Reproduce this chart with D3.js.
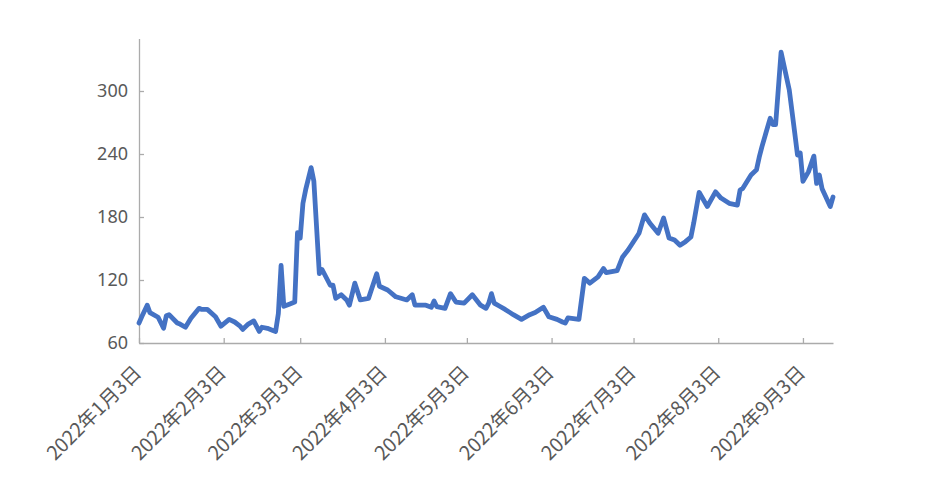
<!DOCTYPE html>
<html><head><meta charset="utf-8">
<script src="https://cdn.jsdelivr.net/npm/d3@7"></script>
<style>html,body{margin:0;padding:0;background:#fff;}svg{display:block;}</style>
</head><body>
<svg id="chart" width="931" height="489"></svg>
<script>
const dates = ["2022-01-03","2022-01-04","2022-01-06","2022-01-07","2022-01-10","2022-01-12","2022-01-13","2022-01-14","2022-01-17","2022-01-18","2022-01-20","2022-01-22","2022-01-25","2022-01-26","2022-01-28","2022-01-31",
"2022-02-02","2022-02-05","2022-02-07","2022-02-09","2022-02-10","2022-02-12","2022-02-14","2022-02-16","2022-02-17","2022-02-19","2022-02-21","2022-02-22","2022-02-23","2022-02-24","2022-02-25","2022-02-27",
"2022-03-01","2022-03-02","2022-03-03","2022-03-04","2022-03-05","2022-03-07","2022-03-08","2022-03-10","2022-03-11","2022-03-13","2022-03-14","2022-03-15","2022-03-16","2022-03-18","2022-03-20","2022-03-21","2022-03-23","2022-03-25","2022-03-28","2022-03-31",
"2022-04-01","2022-04-04","2022-04-07","2022-04-11","2022-04-13","2022-04-14","2022-04-18","2022-04-20","2022-04-21","2022-04-22","2022-04-25","2022-04-27","2022-04-29",
"2022-05-02","2022-05-05","2022-05-08","2022-05-10","2022-05-11","2022-05-12","2022-05-13","2022-05-15","2022-05-17","2022-05-20","2022-05-23","2022-05-26","2022-05-28","2022-05-31",
"2022-06-02","2022-06-05","2022-06-07","2022-06-08","2022-06-09","2022-06-13","2022-06-15","2022-06-17","2022-06-20","2022-06-22","2022-06-23","2022-06-27","2022-06-29",
"2022-07-01","2022-07-05","2022-07-07","2022-07-09","2022-07-12","2022-07-14","2022-07-16","2022-07-18","2022-07-20","2022-07-22","2022-07-24","2022-07-25","2022-07-27","2022-07-30",
"2022-08-02","2022-08-04","2022-08-07","2022-08-10","2022-08-11","2022-08-12","2022-08-15","2022-08-17","2022-08-18","2022-08-19","2022-08-22","2022-08-23","2022-08-24","2022-08-26","2022-08-29","2022-08-31",
"2022-09-01","2022-09-02","2022-09-03","2022-09-05","2022-09-07","2022-09-08","2022-09-09","2022-09-10","2022-09-13","2022-09-14"];
const values = [79,85,96,89,84.5,74,86,87,79,78,75,83.5,93,92,92,85,
76,82.5,80,76,73,78,81,71,75,74,72,71,88,134,95,97,
99,165,160,193,206,227,214,126,130,120,115,115,102.5,106,101,96,117,101,102.5,126,
114,110.5,104,101,106,96,96,94,100,94.6,93,107,99,
98,106,96,93,98,107,98,95,92,87,82.5,87,89,94,
85,82.5,80,79,84,82.5,121.6,117,123,131,127,129,142,
148.6,164.5,182,174,164.5,179,160,158,153,156.5,161,174,203.5,190,
204,198,193,191.4,205.7,207.3,220,225,237,247,274,268,268,337,301,260,
239,241,214,223,238,212,220,207,190,199];
const tickDates = ["2022-01-03","2022-02-03","2022-03-03","2022-04-03","2022-05-03","2022-06-03","2022-07-03","2022-08-03","2022-09-03"];
const yTicks = [60,120,180,240,300];
const yDomain = [60,350];

const parse = d3.timeParse("%Y-%m-%d");
const data = dates.map((d,i)=>({date:parse(d), value:values[i]}));
const svg = d3.select("#chart");
const x = d3.scaleTime().domain([parse("2022-01-03"), parse("2022-09-14")]).range([139, 833]);
const y = d3.scaleLinear().domain(yDomain).range([343, 38.5]);
const axisColor = "#ABABAB";
const textColor = "#595959";
const font = "'Noto Sans CJK SC','Noto Sans',sans-serif";

// y axis
const yAxis = svg.append("g").attr("transform","translate(139,0)")
  .call(d3.axisLeft(y).tickValues(yTicks).tickSizeInner(-5).tickSizeOuter(0).tickPadding(11));
yAxis.select(".domain").attr("stroke",axisColor).attr("stroke-width",1.3);
yAxis.selectAll(".tick line").attr("stroke",axisColor).attr("stroke-width",1.3);
yAxis.selectAll(".tick text").attr("fill",textColor).style("font-family","'Noto Sans',sans-serif").style("font-size","18px");

// x axis
const fmt = d => `${d.getFullYear()}年${d.getMonth()+1}月${d.getDate()}日`;
const xAxis = svg.append("g").attr("transform","translate(0,343)")
  .call(d3.axisBottom(x).tickValues(tickDates.map(parse)).tickFormat(fmt).tickSizeInner(-5).tickSizeOuter(0));
xAxis.select(".domain").attr("stroke",axisColor).attr("stroke-width",1.3);
xAxis.selectAll(".tick text")
  .attr("fill",textColor).style("font-family",font).style("font-size","19.5px")
  .attr("text-anchor","end").attr("dy",null).attr("y",0)
  .attr("transform","translate(3,31) rotate(-45)");
xAxis.selectAll(".tick line").attr("stroke",axisColor).attr("stroke-width",1.3);

// line
const line = d3.line().x(d=>x(d.date)).y(d=>y(d.value));
svg.append("path").datum(data).attr("d",line)
  .attr("fill","none").attr("stroke","#4472C4").attr("stroke-width",4.8)
  .attr("stroke-linejoin","round").attr("stroke-linecap","round");
</script>
</body></html>
